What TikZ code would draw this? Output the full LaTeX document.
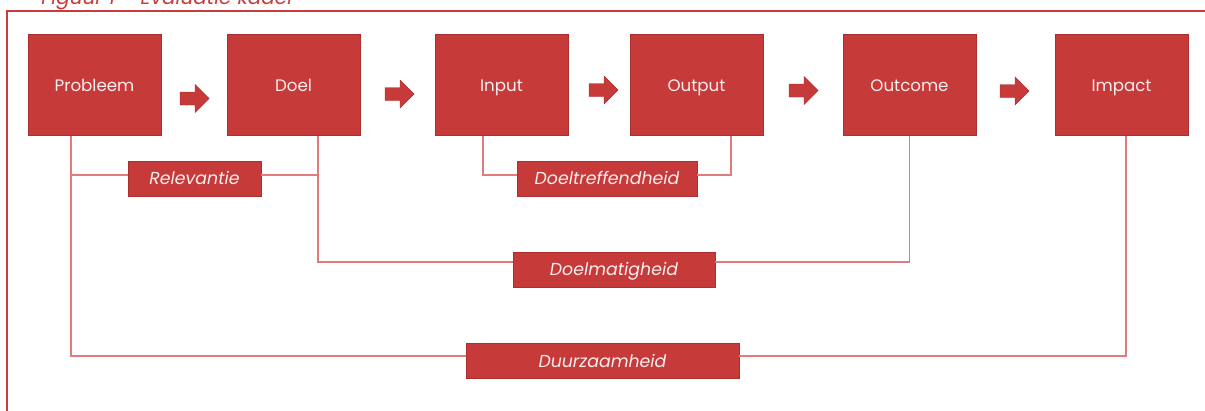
\documentclass[tikz,border=0pt]{standalone}
\usepackage{fontspec}
\setmainfont{Poppins}
\usepackage{xcolor}
\usetikzlibrary{calc}
\definecolor{boxred}{RGB}{198,58,58}
\definecolor{edgered}{RGB}{172,46,46}
\definecolor{linkred}{RGB}{226,124,124}
\definecolor{framered}{RGB}{200,60,60}
\definecolor{paletext}{RGB}{250,238,238}

\begin{document}
\begin{tikzpicture}[x=0.75pt,y=-0.75pt,
  stage/.style={draw=edgered,fill=boxred,line width=0.4pt,minimum width=99.75pt,minimum height=75.75pt,inner sep=0pt,text height=0.95em,text depth=0em,text=paletext,font=\fontsize{12.5}{15}\selectfont},
  crit/.style={draw=edgered,fill=boxred,line width=0.4pt,minimum height=26.25pt,inner sep=0pt,text height=0.9em,text depth=0em,text=paletext,font=\fontsize{13}{15}\selectfont\itshape},
  link/.style={linkred,line width=1.1pt}]
\useasboundingbox (0,0) rectangle (1205,410);
% frame and caption
\draw[framered,line width=1.5pt] (7,412) -- (7,11) -- (1206,11);
\node[anchor=base east,inner sep=0pt,text=framered,font=\fontsize{15}{18}\selectfont\itshape] (caption) at (295,4.5) {Figuur 1 – Evaluatie kader};
% chain
\foreach \x/\name/\txt in {94.5/probleem/Probleem,293.5/doel/Doel,501.5/input/Input,696.5/output/Output,909.5/outcome/Outcome,1121.5/impact/Impact}
  \node[stage] (\name) at (\x,85) {\txt};
\foreach \x/\y in {180/98.5,385/94,589/90,789/90.5,1000/91}
  \filldraw[fill=boxred,draw=edgered,line width=0.3pt] (\x,\y) ++(0,-6.5) -- ++(15,0) -- ++(0,-7.5) -- ++(14,14) -- ++(-14,14) -- ++(0,-7.5) -- ++(-15,0) -- cycle;
% criteria
\foreach \x/\y/\w/\name/\txt in {194.5/178.5/133/relevantie/Relevantie,607/178.5/180/doeltreffendheid/Doeltreffendheid,614/269.5/202/doelmatigheid/Doelmatigheid,602.5/361/273/duurzaamheid/Duurzaamheid}
  \node[crit,minimum width=\w*0.75pt] (\name) at (\x,\y) {\txt};
\draw[link] ($(probleem.south)+(-23.5,0)$) |- ($(duurzaamheid.west)+(0,-5)$);
\draw[link] ($(duurzaamheid.east)+(0,-5)$) -| ($(impact.south)+(4.5,0)$);
\draw[link] ($(relevantie.west)+(0,-3.5)$) -- +(-57,0);
\draw[link] ($(relevantie.east)+(0,-3.5)$) -- +(57,0);
\draw[link] ($(doel.south)+(24.5,0)$) |- ($(doelmatigheid.west)+(0,-7.5)$);
\draw[link] ($(doelmatigheid.east)+(0,-7.5)$) -| (outcome.south);
\draw[link] ($(input.south)+(-18.5,0)$) |- ($(doeltreffendheid.west)+(0,-3.5)$);
\draw[link] ($(doeltreffendheid.east)+(0,-3.5)$) -| ($(output.south)+(34.5,0)$);
\end{tikzpicture}
\end{document}
